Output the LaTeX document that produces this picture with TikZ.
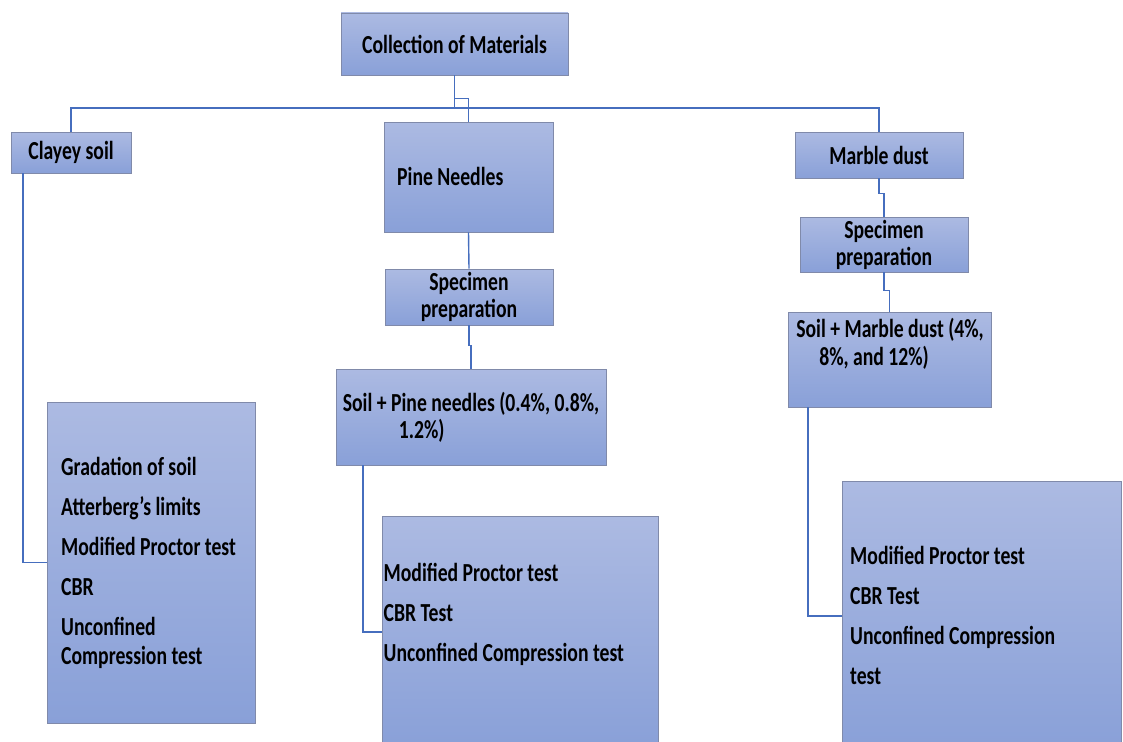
\documentclass[tikz,border=0pt]{standalone}
\usepackage{fontspec}
\setmainfont{Carlito}[FakeStretch=0.757]
\definecolor{boxtop}{RGB}{172,186,226}
\definecolor{boxbot}{RGB}{137,160,216}
\definecolor{boxline}{RGB}{128,138,170}
\definecolor{linkblue}{RGB}{70,110,190}
\tikzstyle{box}=[shape=rectangle, draw=boxline, line width=0.8pt, top color=boxtop, bottom color=boxbot, inner sep=0pt, font=\fontsize{26}{27}\selectfont\bfseries]
\tikzstyle{txt}=[inner sep=0pt, anchor=west, align=left, font=\fontsize{26}{29}\selectfont\bfseries]
\tikzstyle{link}=[draw=linkblue, line width=1.4pt]

\begin{document}
\begin{tikzpicture}[x=1pt, y=-1pt]
		\useasboundingbox (0, 0) rectangle (1123, 741);
		\clip (0, 0) rectangle (1123, 741);

		\node [style=box, minimum width=227, minimum height=62] (coll) at (454.5, 44) {Collection of Materials};
		\node [style=box, minimum width=120, minimum height=41] (clay) at (71, 152.5) {Clayey soil};
		\node [style=box, minimum width=169, minimum height=110] (pine) at (468.5, 177) {};
		\node [style=txt] (pinetxt) at (397, 176) {Pine Needles};
		\node [style=box, minimum width=168, minimum height=46] (marb) at (879, 155) {Marble dust};

		\node [style=box, minimum width=168, minimum height=56, align=center] (spec1) at (469, 297) {Specimen\\preparation};
		\node [style=box, minimum width=168, minimum height=55, align=center] (spec2) at (884, 244.5) {Specimen\\preparation};

		\node [style=box, minimum width=270, minimum height=96, align=left] (mixp) at (471, 417) {Soil + Pine needles (0.4\%, 0.8\%,\\\hspace*{56pt}1.2\%)};
		\node [style=box, minimum width=203, minimum height=95] (mixm) at (889.5, 359.5) {};
		\node [style=txt, anchor=center, font=\fontsize{26}{28}\selectfont\bfseries] (mixmtxt) at (890, 344) {Soil + Marble dust (4\%,\\\hspace*{23pt}8\%, and 12\%)};

		% test boxes
		\node [style=box, minimum width=208, minimum height=321] (testc) at (151, 562.5) {};
		\node [style=txt] (testctxt) at (61, 563) {Gradation of soil\\[11pt]Atterberg's limits\\[11pt]Modified Proctor test\\[11pt]CBR\\[11pt]Unconfined\\Compression test};
		\node [style=box, minimum width=276, minimum height=232] (testp) at (520, 632) {};
		\node [style=txt] (testptxt) at (383.5, 614) {Modified Proctor test\\[11pt]CBR Test\\[11pt]Unconfined Compression test};
		\node [style=box, minimum width=279, minimum height=270] (testm) at (981.5, 616) {};
		\node [style=txt] (testmtxt) at (850, 615.5) {Modified Proctor test\\[11pt]CBR Test\\[11pt]Unconfined Compression\\[11pt]test};

		\coordinate (bus) at (454.5, 108);
		\draw [style=link] (clay.north) |- (bus) -| (marb.north);
		\draw [style=link] (coll.south) -- (bus);
		\draw [style=link] (coll.south) -- ++(0, 23) -| (pine.north);
		\draw [style=link] (pine.south) -- (spec1.north);
		\draw [style=link] (spec1.south) -- ++(0, 20) -| (mixp.north);
		\draw [style=link] (marb.south) -- ++(0, 15) -| (spec2.north);
		\draw [style=link] (spec2.south) -- ++(0, 18) -| (mixm.north);
		\draw [style=link] ([xshift=12.5]clay.south west) |- (testc.west);
		\draw [style=link] ([xshift=27.5]mixp.south west) |- (testp.west);
		\draw [style=link] ([xshift=20.5]mixm.south west) |- (testm.west);
	\end{tikzpicture}
\end{document}
